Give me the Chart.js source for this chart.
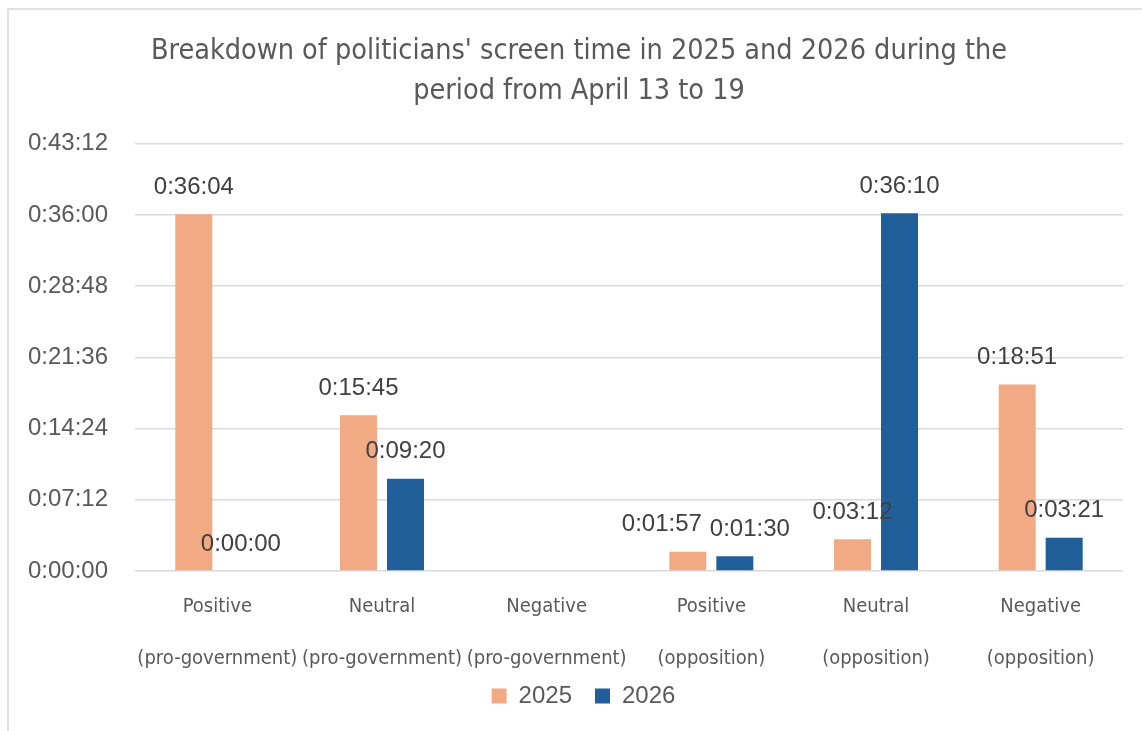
<!DOCTYPE html>
<html>
<head>
<meta charset="utf-8">
<script src="https://cdn.jsdelivr.net/npm/chart.js@4/dist/chart.umd.min.js"></script>
<style>
  html, body { margin: 0; padding: 0; background: #ffffff; }
  #wrap { width: 1142px; height: 731px; position: relative; }
</style>
</head>
<body>
<div id="wrap"><canvas id="c" width="1142" height="731"></canvas></div>
<script>
// Screen time per category, in seconds
const categories = [
  ['Positive', '(pro-government)'],
  ['Neutral', '(pro-government)'],
  ['Negative', '(pro-government)'],
  ['Positive', '(opposition)'],
  ['Neutral', '(opposition)'],
  ['Negative', '(opposition)']
];
const seriesNames = ['2025', '2026'];
const values2025 = [2164, 945, null, 117, 192, 1131];   // 0:36:04, 0:15:45, –, 0:01:57, 0:03:12, 0:18:51
const values2026 = [0, 560, null, 90, 2170, 201];       // 0:00:00, 0:09:20, –, 0:01:30, 0:36:10, 0:03:21
const yTickStep = 432;   // 0:07:12
const yMax = 2592;       // 0:43:12

const NARROW = "'Liberation Sans Narrow', 'DejaVu Sans Condensed', 'Roboto', sans-serif";
const SANS = "'Liberation Sans', Arial, sans-serif";

function hms(sec) {
  const h = Math.floor(sec / 3600);
  const m = Math.floor((sec % 3600) / 60);
  const s = Math.round(sec % 60);
  return h + ':' + String(m).padStart(2, '0') + ':' + String(s).padStart(2, '0');
}

// Light frame around the chart
const framePlugin = {
  id: 'frame',
  beforeDraw(chart) {
    const ctx = chart.ctx;
    ctx.save();
    ctx.fillStyle = '#ffffff';
    ctx.fillRect(0, 0, chart.width, chart.height);
    ctx.strokeStyle = '#d9d9d9';
    ctx.lineWidth = 1.5;
    ctx.beginPath();
    ctx.moveTo(8, chart.height + 2);
    ctx.lineTo(8, 9);
    ctx.lineTo(chart.width + 2, 9);
    ctx.stroke();
    ctx.restore();
  }
};

// Centre title and legend over the band right of the frame, and lift the legend a little
const boxPlacement = {
  id: 'boxPlacement',
  afterLayout(chart, args, opts) {
    const t = chart.titleBlock, lg = chart.legend;
    if (t) { t.left = opts.titleLeft; t.right = opts.right; }
    if (lg) {
      lg.left = opts.legendLeft; lg.right = opts.right;
      lg.top -= opts.legendLift; lg.bottom -= opts.legendLift;
    }
  }
};

// Value labels above each bar
const valueLabels = {
  id: 'valueLabels',
  afterDatasetsDraw(chart, args, opts) {
    const ctx = chart.ctx;
    ctx.save();
    ctx.font = opts.font;
    ctx.fillStyle = opts.color;
    ctx.textAlign = 'center';
    ctx.textBaseline = 'middle';
    chart.data.datasets.forEach((ds, di) => {
      const meta = chart.getDatasetMeta(di);
      meta.data.forEach((bar, i) => {
        const v = ds.data[i];
        if (v === null || v === undefined) return;
        const nudge = (opts.nudge[i] || [0, 0])[di] || 0;
        ctx.fillText(hms(v), bar.x + nudge, bar.y - opts.gap);
      });
    });
    ctx.restore();
  }
};

new Chart(document.getElementById('c'), {
  type: 'bar',
  data: {
    labels: categories,
    datasets: [
      { label: seriesNames[0], data: values2025, backgroundColor: '#F2AA84' },
      { label: seriesNames[1], data: values2026, backgroundColor: '#215F9A' }
    ]
  },
  options: {
    responsive: false,
    animation: false,
    devicePixelRatio: 1,
    layout: { padding: { left: 0, right: 19, top: 0, bottom: 0 } },
    datasets: { bar: { categoryPercentage: 0.571, barPercentage: 0.787 } },
    plugins: {
      title: {
        display: true,
        text: ["Breakdown of politicians' screen time in 2025 and 2026 during the", 'period from April 13 to 19'],
        color: '#595959',
        font: { family: NARROW, size: 28.5, weight: 'normal', lineHeight: 1.4 },
        padding: { top: 32, bottom: 32 }
      },
      legend: {
        position: 'bottom',
        labels: {
          color: '#595959',
          font: { family: SANS, size: 24 },
          boxWidth: 15,
          boxHeight: 15,
          padding: 23
        }
      },
      boxPlacement: { titleLeft: 35, legendLeft: 44, right: 1123, legendLift: 13 },
      tooltip: { enabled: false },
      valueLabels: {
        font: '24px ' + SANS,
        color: '#404040',
        gap: 27,
        nudge: { 3: [-26, 15] }
      }
    },
    scales: {
      x: {
        grid: { display: false },
        border: { display: false },
        ticks: {
          color: '#595959',
          font: { family: NARROW, size: 20, lineHeight: 2.6 },
          maxRotation: 0,
          autoSkip: false,
          padding: 2
        },
        afterFit(scale) { scale.height = 103; }
      },
      y: {
        min: 0,
        max: yMax,
        border: { display: false },
        grid: { color: '#d9d9d9', lineWidth: 1.5, drawTicks: false },
        ticks: {
          stepSize: yTickStep,
          color: '#595959',
          font: { family: SANS, size: 24 },
          padding: 27,
          callback: (v) => hms(v)
        },
        afterFit(scale) { scale.width = 135; }
      }
    }
  },
  plugins: [framePlugin, boxPlacement, valueLabels]
});
</script>
</body>
</html>
